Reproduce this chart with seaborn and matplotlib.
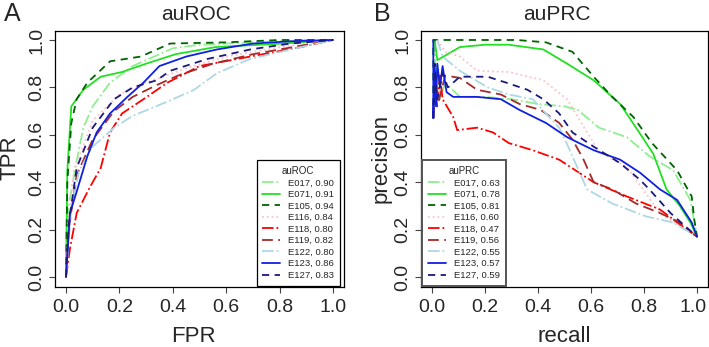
import pandas as pd
import seaborn as sns
import matplotlib.pyplot as plt
import matplotlib.transforms as mtransforms

# model names and area-under-curve values shown in the legends
models = ["E017", "E071", "E105", "E116", "E118", "E119", "E122", "E123", "E127"]
auroc = [0.90, 0.91, 0.94, 0.84, 0.80, 0.82, 0.80, 0.86, 0.83]
auprc = [0.63, 0.78, 0.81, 0.60, 0.47, 0.56, 0.55, 0.57, 0.59]

# ROC curves (FPR, TPR)
fpr_e017 = [0.0, 0.01, 0.04, 0.065, 0.10, 0.165, 0.25, 0.33, 0.40, 0.50, 0.70, 0.90, 1.0]
tpr_e017 = [0.0, 0.30, 0.49, 0.63, 0.72, 0.82, 0.89, 0.93, 0.965, 0.98, 0.99, 1.0, 1.0]
fpr_e071 = [0.0, 0.005, 0.02, 0.065, 0.13, 0.21, 0.30, 0.41, 0.56, 0.81, 1.0]
tpr_e071 = [0.0, 0.45, 0.72, 0.79, 0.845, 0.865, 0.90, 0.94, 0.97, 0.985, 1.0]
fpr_e105 = [0.0, 0.005, 0.02, 0.04, 0.08, 0.165, 0.28, 0.39, 0.60, 0.80, 1.0]
tpr_e105 = [0.0, 0.40, 0.65, 0.75, 0.82, 0.91, 0.93, 0.985, 0.99, 1.0, 1.0]
fpr_e116 = [0.0, 0.01, 0.03, 0.10, 0.20, 0.30, 0.45, 0.60, 0.80, 1.0]
tpr_e116 = [0.0, 0.25, 0.45, 0.66, 0.77, 0.82, 0.88, 0.93, 0.97, 1.0]
fpr_e118 = [0.0, 0.015, 0.04, 0.09, 0.13, 0.165, 0.21, 0.29, 0.38, 0.50, 0.69, 0.88, 1.0]
tpr_e118 = [0.0, 0.12, 0.27, 0.38, 0.46, 0.61, 0.69, 0.75, 0.82, 0.89, 0.93, 0.97, 1.0]
fpr_e119 = [0.0, 0.01, 0.04, 0.10, 0.18, 0.25, 0.34, 0.42, 0.55, 0.70, 0.85, 1.0]
tpr_e119 = [0.0, 0.20, 0.43, 0.58, 0.70, 0.76, 0.81, 0.85, 0.90, 0.94, 0.97, 1.0]
fpr_e122 = [0.0, 0.02, 0.05, 0.10, 0.18, 0.25, 0.38, 0.48, 0.565, 0.69, 0.88, 1.0]
tpr_e122 = [0.0, 0.30, 0.45, 0.55, 0.63, 0.68, 0.74, 0.79, 0.86, 0.92, 0.97, 1.0]
fpr_e123 = [0.0, 0.015, 0.04, 0.08, 0.115, 0.165, 0.23, 0.29, 0.35, 0.45, 0.565, 0.70, 0.85, 1.0]
tpr_e123 = [0.0, 0.27, 0.36, 0.51, 0.61, 0.69, 0.76, 0.82, 0.89, 0.93, 0.96, 0.985, 0.995, 1.0]
fpr_e127 = [0.0, 0.01, 0.04, 0.10, 0.18, 0.25, 0.34, 0.39, 0.53, 0.69, 0.84, 1.0]
tpr_e127 = [0.0, 0.22, 0.46, 0.63, 0.75, 0.80, 0.83, 0.87, 0.92, 0.96, 0.985, 1.0]

# precision-recall curves (recall, precision)
rec_e017 = [0.01, 0.015, 0.02, 0.03, 0.05, 0.105, 0.20, 0.30, 0.40, 0.50, 0.55, 0.63, 0.735, 0.82, 0.91, 0.975, 1.0]
pre_e017 = [1.0, 0.80, 0.90, 0.75, 0.82, 0.76, 0.76, 0.75, 0.73, 0.72, 0.705, 0.63, 0.59, 0.51, 0.45, 0.325, 0.17]
rec_e071 = [0.01, 0.02, 0.105, 0.20, 0.29, 0.42, 0.51, 0.61, 0.71, 0.77, 0.835, 0.885, 0.935, 0.975, 1.0]
pre_e071 = [1.0, 0.915, 0.97, 0.98, 0.98, 0.96, 0.90, 0.83, 0.73, 0.63, 0.52, 0.37, 0.30, 0.23, 0.17]
rec_e105 = [0.005, 0.005, 0.01, 0.10, 0.32, 0.43, 0.53, 0.61, 0.68, 0.76, 0.83, 0.925, 0.98, 0.99, 1.0]
pre_e105 = [0.67, 1.0, 1.0, 1.0, 1.0, 0.99, 0.95, 0.845, 0.76, 0.675, 0.565, 0.45, 0.34, 0.24, 0.17]
rec_e116 = [0.02, 0.05, 0.105, 0.17, 0.29, 0.42, 0.51, 0.585, 0.63, 0.735, 0.86, 1.0]
pre_e116 = [1.0, 0.95, 0.93, 0.87, 0.865, 0.83, 0.75, 0.61, 0.53, 0.465, 0.27, 0.17]
rec_e118 = [0.005, 0.01, 0.02, 0.03, 0.04, 0.08, 0.095, 0.17, 0.23, 0.29, 0.38, 0.48, 0.61, 0.735, 0.86, 0.95, 1.0]
pre_e118 = [0.67, 0.88, 0.75, 0.85, 0.75, 0.675, 0.62, 0.63, 0.61, 0.565, 0.535, 0.495, 0.40, 0.34, 0.285, 0.21, 0.17]
rec_e119 = [0.005, 0.01, 0.02, 0.05, 0.105, 0.17, 0.26, 0.33, 0.41, 0.48, 0.53, 0.57, 0.61, 0.68, 0.77, 0.86, 0.935, 1.0]
pre_e119 = [0.67, 0.82, 0.72, 0.85, 0.84, 0.79, 0.77, 0.73, 0.705, 0.65, 0.58, 0.50, 0.40, 0.37, 0.31, 0.27, 0.23, 0.17]
rec_e122 = [0.02, 0.04, 0.105, 0.21, 0.29, 0.38, 0.48, 0.51, 0.585, 0.68, 0.81, 0.91, 1.0]
pre_e122 = [1.0, 0.93, 0.87, 0.80, 0.77, 0.75, 0.63, 0.56, 0.37, 0.31, 0.255, 0.23, 0.17]
rec_e123 = [0.005, 0.005, 0.01, 0.015, 0.02, 0.03, 0.04, 0.055, 0.08, 0.17, 0.26, 0.33, 0.43, 0.51, 0.61, 0.71, 0.785, 0.86, 0.925, 0.98, 1.0]
pre_e123 = [1.0, 0.67, 0.88, 0.72, 0.90, 0.80, 0.89, 0.78, 0.76, 0.76, 0.75, 0.705, 0.65, 0.59, 0.535, 0.495, 0.44, 0.37, 0.325, 0.23, 0.17]
rec_e127 = [0.005, 0.01, 0.02, 0.04, 0.06, 0.105, 0.21, 0.28, 0.36, 0.42, 0.48, 0.53, 0.61, 0.71, 0.785, 0.82, 0.90, 0.98, 1.0]
pre_e127 = [0.67, 0.90, 0.75, 0.86, 0.80, 0.845, 0.845, 0.82, 0.79, 0.75, 0.69, 0.61, 0.55, 0.48, 0.41, 0.37, 0.27, 0.19, 0.17]

colors = ["#90ee90", "#22e022", "#006400", "#ffc0cb", "#ff0000",
          "#a52a2a", "#add8e6", "#1020e0", "#1a1a80"]
styles = ["-.", "-", (0, (4, 3)), ":", "-.", (0, (6, 3)), "-.", "-", (0, (4, 3))]

roc = [(fpr_e017, tpr_e017), (fpr_e071, tpr_e071), (fpr_e105, tpr_e105),
       (fpr_e116, tpr_e116), (fpr_e118, tpr_e118), (fpr_e119, tpr_e119),
       (fpr_e122, tpr_e122), (fpr_e123, tpr_e123), (fpr_e127, tpr_e127)]
prc = [(rec_e017, pre_e017), (rec_e071, pre_e071), (rec_e105, pre_e105),
       (rec_e116, pre_e116), (rec_e118, pre_e118), (rec_e119, pre_e119),
       (rec_e122, pre_e122), (rec_e123, pre_e123), (rec_e127, pre_e127)]

sns.set_style("ticks")
plt.rcParams["font.family"] = ["Liberation Sans", "DejaVu Sans"]

W, H = 709, 347
fig = plt.figure(figsize=(W / 100, H / 100), dpi=100)
ax_a = fig.add_axes([55.3 / W, 1 - 286.5 / H, (343.7 - 55.3) / W, 256 / H])
ax_b = fig.add_axes([421.4 / W, 1 - 286.5 / H, (707.6 - 421.4) / W, 256 / H])

ticks = [0, 0.2, 0.4, 0.6, 0.8, 1.0]
tick_labels = ["0.0", "0.2", "0.4", "0.6", "0.8", "1.0"]


def draw_curves(ax, curves, aucs):
    for name, (xs, ys), auc, col, ls in zip(models, curves, aucs, colors, styles):
        df = pd.DataFrame({"x": xs, "y": ys})
        sns.lineplot(data=df, x="x", y="y", ax=ax, sort=False, estimator=None,
                     color=col, linestyle=ls, lw=1.3, label=f"{name}, {auc:.2f}")
    ax.set_xlim(-0.04, 1.04)
    ax.set_ylim(-0.04, 1.04)
    ax.set_xticks(ticks)
    ax.set_yticks(ticks)
    ax.set_xticklabels(tick_labels)
    ax.set_yticklabels(tick_labels, rotation=90, va="center")
    ax.tick_params(labelsize=14, length=4, width=0.8, color="#444444")
    ax.tick_params(axis="x", pad=5)
    ax.tick_params(axis="y", pad=3)
    ax.set_xlabel("")
    ax.set_ylabel("")
    for sp in ax.spines.values():
        sp.set_linewidth(0.9)
        sp.set_color("black")


draw_curves(ax_a, roc, auroc)
draw_curves(ax_b, prc, auprc)

# the last recall tick label sits right at the figure edge; nudge it inside
last = ax_b.get_xticklabels()[-1]
last.set_transform(last.get_transform() +
                   mtransforms.ScaledTranslation(-4 / 100, 0, fig.dpi_scale_trans))

leg_kw = dict(fontsize=6.8, title_fontsize=7, handlelength=1.9, handletextpad=0.85,
              labelspacing=0.27, borderpad=0.6, fancybox=False, framealpha=1)
leg_a = ax_a.legend(title="auROC", loc="lower right",
                    bbox_to_anchor=(1 - 4 / 288, 1 / 256), borderaxespad=0, **leg_kw)
leg_a.get_frame().set_edgecolor("black")
leg_a.get_frame().set_linewidth(0.9)
leg_b = ax_b.legend(title="auPRC", loc="lower left",
                    bbox_to_anchor=(1 / 286, 1 / 256), borderaxespad=0, **leg_kw)
leg_b.get_frame().set_edgecolor("#555555")
leg_b.get_frame().set_linewidth(1.4)

fig.text(12 / W, 1 - 14 / H, "A", fontsize=18, ha="center", va="center")
fig.text(382 / W, 1 - 14 / H, "B", fontsize=18, ha="center", va="center")
fig.text(196 / W, 1 - 15 / H, "auROC", fontsize=15, ha="center", va="center")
fig.text(557 / W, 1 - 15 / H, "auPRC", fontsize=15, ha="center", va="center")
fig.text(10 / W, 1 - 158 / H, "TPR", fontsize=16, rotation=90, ha="center", va="center")
fig.text(381 / W, 1 - 158 / H, "precision", fontsize=16, rotation=90, ha="center", va="center")
fig.text(193 / W, 1 - 337 / H, "FPR", fontsize=16, ha="center", va="center")
fig.text(564 / W, 1 - 337 / H, "recall", fontsize=16, ha="center", va="center")

fig.savefig("out.png", dpi=100)
